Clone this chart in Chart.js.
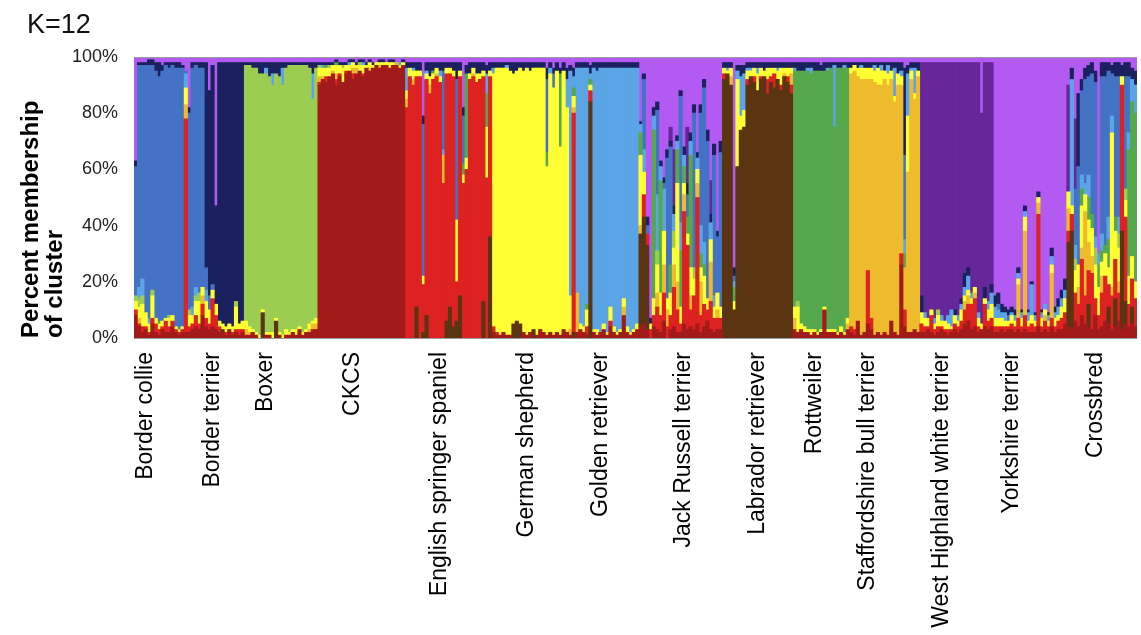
<!DOCTYPE html>
<html><head><meta charset="utf-8">
<script src="https://cdn.jsdelivr.net/npm/chart.js@4/dist/chart.umd.min.js"></script>
<style>html,body{margin:0;padding:0;background:#fff}#wrap{position:relative;width:1141px;height:635px}</style>
</head><body><div id="wrap"><canvas id="c" width="1141" height="635"></canvas></div>
<script>
// ---- DATA ----
const breeds = ['Border collie','Border terrier','Boxer','CKCS','English springer spaniel','German shepherd','Golden retriever','Jack Russell terrier','Labrador retriever','Rottweiler','Staffordshire bull terrier','West Highland white terrier','Yorkshire terrier','Crossbred'];
// cluster codes, bottom to top of every bar
const clusterCodes = ['C','L','R','O','Y','G','T','S','B','N','W','P'];
const clusterColors = ['#A31A1A','#5B3511','#DE2121','#EDBB2C','#FFFF33','#9DCC52','#56A84D','#5BA4E6','#4472C4','#1B205E','#66279A','#B35AF3'];
const yTicks = [0,20,40,60,80,100];
// per-dog membership (%), "code+value"
const borderCollie = ["C8 R2 Y3 G2 B46 N2 P37","C4 R1 O2 Y4 G3 S4 B79 N1 P2","C2 R2 Y8 G3 S6 B76 N1 P2","C3 R1 Y5 B88 N1 P2","C1 R1 Y3 S2 B90 N2 P1","C5 R2 Y8 G2 B80 N2 P1","C2 R3 Y2 B88 N3 P2","C1 R2 Y2 T1 B87 N5 P2","C3 R1 Y2 B89 N2 P3","C2 R4 Y1 B90 N1 P2","C2 R2 Y3 G1 B88 N2 P2","C4 R2 Y2 B89 N1 P2","C2 R1 Y1 B92 N2 P2","C1 R1 Y1 B93 N2 P2","C2 R1 Y1 B92 N1 P3","C2 R76 O5 Y6 S5 B1 P5","C2 R2 Y4 G2 B70 N2 P18","C3 R2 Y3 S3 B85 N2 P2","C4 R4 Y5 G2 S3 B79 N1 P2","C3 R2 Y8 G3 B80 N2 P2","C8 R4 O3 Y3 B78 N2 P2"];
const borderTerrier = ["C4 R3 Y6 S4 B8 N73 P2","C3 R2 Y5 B5 N73 P12","C4 R10 Y3 B2 N78 P3","C3 R5 Y4 N35 P53","C2 R2 Y2 N92 P2","C2 L1 Y2 N93 P2","C1 R1 Y2 N94 P2","C3 Y2 N93 P2","C1 R1 Y2 N94 P2","C2 R1 Y8 G2 N85 P2","C1 R2 Y2 N93 P2","C2 R1 Y3 N92 P2"];
const boxer = ["C1 O2 Y3 G91 N1 P2","C1 O1 Y2 G93 N1 P2","C2 Y1 G93 N2 P2","C1 Y1 G94 N2 P2","Y1 G93 N4 P2","L9 Y1 G84 N4 P2","C1 Y1 G92 S2 N2 P2","C1 Y1 G91 N5 P2","Y2 G88 S4 N4 P2","L6 Y1 G87 N4 P2","C1 Y1 G91 N5 P2","Y1 G89 S6 N2 P2","C1 Y2 G93 N2 P2","C1 Y1 G95 N1 P2","C2 Y1 G94 N1 P2","C1 Y2 G94 N1 P2","C3 Y1 G93 N1 P2","C1 Y1 G95 N1 P2","C2 Y1 G94 N1 P2","C2 O1 Y2 G91 N2 P2","C3 O2 Y1 G79 S9 N4 P2","C3 O2 Y2 G89 N2 P2"];
const ckcs = ["C90 R1 O2 Y3 G1 N1 P2","C92 O1 Y3 S1 N1 P2","C91 R2 Y3 T1 N1 P2","C93 Y3 G1 N1 P2","C94 O1 Y2 N1 P2","C90 R2 O2 Y3 T1 N1 P1","C93 R1 Y3 N1 P2","C91 Y5 G1 N1 P2","C94 R1 Y2 N1 P2","C95 Y2 S1 N1 P1","C92 R2 O2 Y2 N1 P1","C94 O2 Y1 N1 P2","C95 Y2 G1 N1 P1","C93 R1 Y3 S1 N1 P1","C96 Y1 N1 P2","C95 O1 Y2 N1 P1","C96 Y1 N1 P2","C97 Y1 P2","C96 O1 Y1 N1 P1","C97 Y1 N1 P1","C97 Y1 P2","C96 Y2 N1 P1","C97 Y1 N1 P1","C97 O1 P2","C96 Y1 S1 P2","C97 Y1 N1 P1"];
const springerSpaniel = ["R82 O3 Y3 S8 N2 P2","R93 Y3 N2 P2","R90 O2 Y3 S1 N2 P2","L11 R82 Y2 N3 P2","R93 Y2 N3 P2","L2 R17 Y3 B54 N3 P21","L8 R84 Y2 S1 N3 P2","R87 O3 Y3 N5 P2","R92 Y2 T1 N3 P2","R93 O1 Y2 N2 P2","R91 Y2 S2 N3 P2","R55 O10 S2 B28 N3 P2","L6 R88 Y2 N2 P2","L11 R83 Y2 N2 P2","L4 R89 Y2 N3 P2","L6 R14 Y22 B50 N6 P2","L15 R78 Y2 N3 P2","R55 Y3 T4 B17 N3 P18","R60 Y4 T30 N3 P3","R92 Y2 N4 P2","R93 O1 Y2 N2 P2","R91 Y3 N4 P2","R92 Y2 N4 P2","L13 R80 Y2 N3 P2","R57 Y18 T12 S7 N3 P3","L36 R57 Y2 N3 P2"];
const germanShepherd = ["C2 R2 Y90 S2 N2 P2","C1 R1 Y94 N2 P2","C1 Y95 N2 P2","C2 Y94 N2 P2","C1 Y95 S1 N1 P2","C1 Y94 N3 P2","L5 Y89 N4 P2","L6 Y89 N3 P2","L5 Y91 N2 P2","C2 Y93 N3 P2","C1 Y95 N2 P2","C2 Y93 N3 P2","L3 Y93 N2 P2","C1 Y95 N2 P2","C3 Y93 N2 P2","C2 Y94 N2 P2","C1 Y60 T5 B26 N4 P4","C2 Y92 S2 N2 P2","C1 Y88 B5 N2 P4","C2 Y93 N3 P2","C1 Y67 T26 N2 P4","C3 Y92 N3 P2","C2 Y80 S10 N4 P4"];
const goldenRetriever = ["C1 O2 Y12 S80 N2 P3","L2 R78 O2 Y4 T3 S4 N3 P4","C2 O14 S80 N2 P2","C3 Y2 S91 N2 P2","C2 Y2 S92 N2 P2","C1 R3 Y6 T2 S84 N2 P2","L84 R4 Y2 T2 S2 N3 P3","C2 Y1 S93 N2 P2","C1 Y2 S92 N3 P2","C2 S94 N2 P2","C3 Y2 S91 N2 P2","C1 Y1 S94 N2 P2","C4 R2 Y5 S85 N2 P2","C2 Y2 S92 N2 P2","C1 Y1 S94 N2 P2","C2 Y1 S93 N2 P2","C8 O3 Y3 S82 N2 P2","C2 Y2 S92 N2 P2","C1 Y1 S94 N2 P2","C2 Y1 S93 N2 P2","C3 Y2 S91 N2 P2"];
const jackRussell = ["C4 L33 O3 Y25 T8 S3 N1 P23","C5 L38 R8 Y8 S8 B25 N2 P6","C3 R4 L30 B3 N3 P57","R3 Y2 N2 P93","C4 R4 Y6 T60 S5 N3 P18","C3 R8 O5 Y10 G5 S20 B30 N3 P16","C2 R6 Y8 T40 S5 N2 P37","C6 R10 O10 Y12 S15 B2 N2 P43","R4 O6 Y4 B50 N3 P33","C3 R5 Y8 T10 B42 N2 W5 P25","C4 R14 O8 Y6 G6 S6 N3 W20 P33","C2 R8 O10 Y35 T12 S3 N2 P28","C2 R3 Y6 T20 S10 B45 N2 P12","C5 R40 O6 Y4 T6 S4 N3 P32","C3 R30 Y4 T6 B8 N4 W20 P25","C4 R6 O5 Y10 T40 S5 N3 P27","C3 R12 Y6 G4 B55 N3 P17","C5 R45 O5 Y5 S4 N2 P34","C2 R6 O12 Y5 T5 S10 B40 N3 P17","C4 R8 Y10 T4 S8 B55 N3 P8","C6 R4 Y4 B56 N4 P26","C3 R10 O14 Y8 S6 N3 W12 P44","C2 R5 Y4 S4 B50 N4 P31","C3 R4 O3 Y6 B20 N2 P62","C3 R4 Y4 B55 N4 P30"];
const labrador = ["L92 R2 Y2 N2 P2","L94 Y1 S1 N2 P2","L90 O3 Y3 N2 P2","L10 Y3 T5 S2 B2 N3 P75","L61 Y31 S3 N2 P3","L74 Y5 S14 N4 P3","L75 Y6 S13 N3 P3","L90 R2 Y3 S1 N2 P2","L93 Y2 S1 N2 P2","L91 R2 Y3 N2 P2","L88 Y6 S2 N2 P2","L92 R1 Y3 N2 P2","L93 Y2 N3 P2","L87 R5 Y4 N2 P2","L91 R2 Y3 N2 P2","L89 R5 Y2 N2 P2","L92 Y3 S1 N2 P2","L88 R2 Y6 N2 P2","L93 O1 Y2 N2 P2","L91 R2 Y3 N2 P2","L87 R3 O4 Y2 N2 P2"];
const rottweiler = ["C3 O4 Y4 T84 S1 N2 P2","C2 Y9 G2 T82 N3 P2","C3 Y2 T90 N3 P2","C2 Y2 T91 N3 P2","C2 Y1 T92 S1 N2 P2","C1 Y2 T91 S2 N2 P2","C2 Y1 T92 N3 P2","C1 Y1 T93 N3 P2","C2 Y1 T92 N2 P3","C10 Y1 T84 N3 P2","C2 Y1 T92 S1 N2 P2","C2 Y1 T93 N2 P2","C2 Y1 T72 S22 N1 P2","C1 Y1 T94 N2 P2","C2 Y2 T92 N2 P2","C1 Y1 T94 S1 N1 P2","C3 O2 Y2 T89 N2 P2"];
const staffordshire = ["C2 R2 O90 Y2 N2 P2","C1 R2 O92 Y2 N1 P2","C6 O87 Y3 N2 P2","C1 O91 Y4 S1 N1 P2","C2 O90 Y4 N2 P2","C5 R19 O68 Y4 N2 P2","C3 R4 O85 Y4 N2 P2","C1 O90 Y4 S2 N1 P2","C2 O88 Y6 N2 P2","C1 O89 Y5 S2 N1 P2","C2 O90 Y3 N3 P2","C1 O89 Y4 S3 N1 P2","C6 O86 Y3 N3 P2","C2 O82 Y2 S10 N2 P2","C1 O89 Y4 N4 P2","C26 R4 O60 Y3 S2 N3 P2","C4 R6 O15 T5 S5 B30 N31 P4","C2 O57 Y20 S15 N3 P3","C2 O90 Y3 S1 N2 P2","C3 O82 Y2 S9 N2 P2","C2 O91 Y2 N3 P2"];
const westHighland = ["C2 R3 Y4 N6 W83 P2","C2 R2 Y3 S2 W89 P2","C3 R1 Y3 W91 P2","C2 R6 Y2 W88 P2","C1 R2 Y2 S2 W91 P2","C2 R2 Y4 G2 W88 P2","C3 R1 Y2 S2 W90 P2","C2 R1 Y3 W92 P2","C1 R2 Y2 S3 W90 P2","C2 R1 Y1 S6 W88 P2","C3 R2 Y3 N2 W88 P2","C2 R2 Y2 S2 W90 P2","C3 R3 Y4 S2 N2 W84 P2","C5 R5 O3 Y2 S3 N5 W75 P2","C6 R6 O3 Y2 S5 N3 W73 P2","C3 R9 Y2 S2 W82 P2","C4 R10 O2 Y2 W80 P2","C2 R2 Y3 S2 W89 P2","C3 Y2 W75 P20","C4 R8 Y2 N4 W80 P2","C3 R3 Y4 S3 W85 P2","C4 R3 Y5 S4 N3 W79 P2"];
const yorkshire = ["C2 R2 Y3 S4 N4 P85","C2 R2 Y3 S3 B2 N4 P84","C3 R1 Y3 S2 N3 P88","C2 R2 Y2 S3 N2 P89","C3 R1 Y2 B2 N2 P90","C3 R2 Y3 S1 N2 P89","C2 R2 Y2 S2 N2 P90","C3 R4 O12 Y2 S2 N2 P75","C2 R2 Y3 S2 N1 P90","C3 R5 O30 Y5 S2 N2 P53","C2 R2 Y2 S3 N1 P90","C2 R3 Y3 S11 N1 P80","C2 R2 Y2 S2 N1 P91","C4 R40 O4 Y2 N2 P48","C2 R2 Y3 S2 N1 P90","C3 R3 O2 Y2 S2 P88","C2 R2 Y2 S2 N1 P91","C4 R3 O16 Y3 S3 N3 P68","C2 R2 Y3 S2 N2 P89","C3 R3 Y2 S3 N3 P86","C3 R4 Y4 S3 N3 P83","C5 R4 Y5 S3 N4 P79"];
const crossbred = ["C4 L30 R4 O8 Y6 W38 P10","C3 L35 R6 Y3 S45 N4 P4","C6 R10 Y8 G4 S5 B20 W25 P22","C4 R8 O6 Y8 B35 N26 P13","C8 R20 O4 Y15 T6 S5 B30 N4 P8","C5 R10 O30 Y6 S4 B37 N4 P4","C4 L8 R12 O10 Y8 T8 S8 B35 N4 P3","C3 R20 O6 Y10 T5 B50 N4 P2","C8 R6 Y12 G6 S4 B55 N4 P5","C3 R5 Y10 T8 S4 P70","C4 R12 O6 Y5 T4 S6 B56 N5 P2","C6 R16 Y8 T3 B60 N5 P2","C5 L6 R8 Y6 T10 S8 B52 N3 P2","C3 R12 O3 Y55 S6 B15 N3 P3","C4 L10 R14 Y10 T5 B50 N5 P2","C6 R10 O4 Y12 G5 S6 B50 N5 P2","C3 L35 R52 Y3 N4 P3","C5 L8 R30 Y6 G4 B40 N5 P2","C4 R8 Y10 T45 S6 B20 N5 P2","C5 L6 R10 Y8 T55 S8 N4 P4","C4 R10 Y6 T60 S10 N5 P5"];
const groups = [borderCollie,borderTerrier,boxer,ckcs,springerSpaniel,germanShepherd,goldenRetriever,jackRussell,labrador,rottweiler,staffordshire,westHighland,yorkshire,crossbred];

// ---- LAYOUT (not data): which dog carries each breed label ----
const labelAtDog = [3,23,39,65,91,117,139,164,186,203,219,241,262,287];

// ---- build table ----
const samples = [].concat(...groups);
const table = clusterCodes.map(() => samples.map(() => null));
samples.forEach((s, i) => {
  const parts = s.split(' ').map(t => [t[0], parseFloat(t.slice(1))]);
  const sum = parts.reduce((a, p) => a + p[1], 0);
  parts.forEach(([c, v]) => { table[clusterCodes.indexOf(c)][i] = v * 100 / sum; });
});
const labelMap = {};
labelAtDog.forEach((d, k) => { labelMap[d] = breeds[k]; });

const FONT = '"Liberation Sans", Arial, Helvetica, sans-serif';

const framePlugin = {
  id: 'frame',
  afterDatasetsDraw(chart) {
    const {ctx, chartArea: a} = chart;
    ctx.save();
    ctx.strokeStyle = '#9a9a9a';
    ctx.lineWidth = 1;
    ctx.beginPath();
    ctx.moveTo(a.left, a.top + 0.5); ctx.lineTo(a.right, a.top + 0.5);
    ctx.moveTo(a.left, a.bottom + 0.5); ctx.lineTo(a.right, a.bottom + 0.5);
    ctx.stroke();
    ctx.restore();
  },
  afterDraw(chart) {
    const ctx = chart.ctx;
    ctx.save();
    ctx.fillStyle = '#111';
    ctx.font = '27px ' + FONT;
    ctx.textBaseline = 'alphabetic';
    ctx.fillText('K=12', 27, 33);
    ctx.restore();
  }
};

new Chart(document.getElementById('c'), {
  type: 'bar',
  data: {
    labels: samples.map((_, i) => i),
    datasets: clusterCodes.map((c, k) => ({
      label: c,
      data: table[k],
      backgroundColor: clusterColors[k],
      borderWidth: 0,
      barPercentage: 1,
      categoryPercentage: 1,
      inflateAmount: 0.4,
      stack: 's'
    }))
  },
  options: {
    responsive: false,
    animation: false,
    events: [],
    layout: {padding: {left: 18, top: 57, right: 4, bottom: 0}},
    plugins: {legend: {display: false}, tooltip: {enabled: false}, title: {display: false}},
    scales: {
      x: {
        stacked: true,
        grid: {display: false, drawTicks: false},
        border: {display: false},
        afterFit(s) { s.height = 297; s.paddingLeft = 0; s.paddingRight = 0; },
        ticks: {
          autoSkip: false, minRotation: 90, maxRotation: 90, padding: 14,
          color: '#000', font: {family: FONT, size: 23},
          callback: (v, i) => labelMap[i] || ''
        }
      },
      y: {
        stacked: true, min: 0, max: 100,
        grid: {display: false, drawTicks: false},
        border: {display: false},
        afterFit(s) { s.width = 116; s.paddingTop = 0; s.paddingBottom = 0; },
        afterBuildTicks(s) { s.ticks = yTicks.map(v => ({value: v})); },
        ticks: {
          padding: 16, color: '#222', font: {family: FONT, size: 18},
          callback: v => v + '%'
        },
        title: {
          display: true, text: ['Percent membership', 'of cluster'], align: 'start',
          color: '#000', font: {family: FONT, size: 24, weight: 'bold', lineHeight: 1},
          padding: {top: 1, bottom: 0}
        }
      }
    }
  },
  plugins: [framePlugin]
});
</script>
</body></html>
